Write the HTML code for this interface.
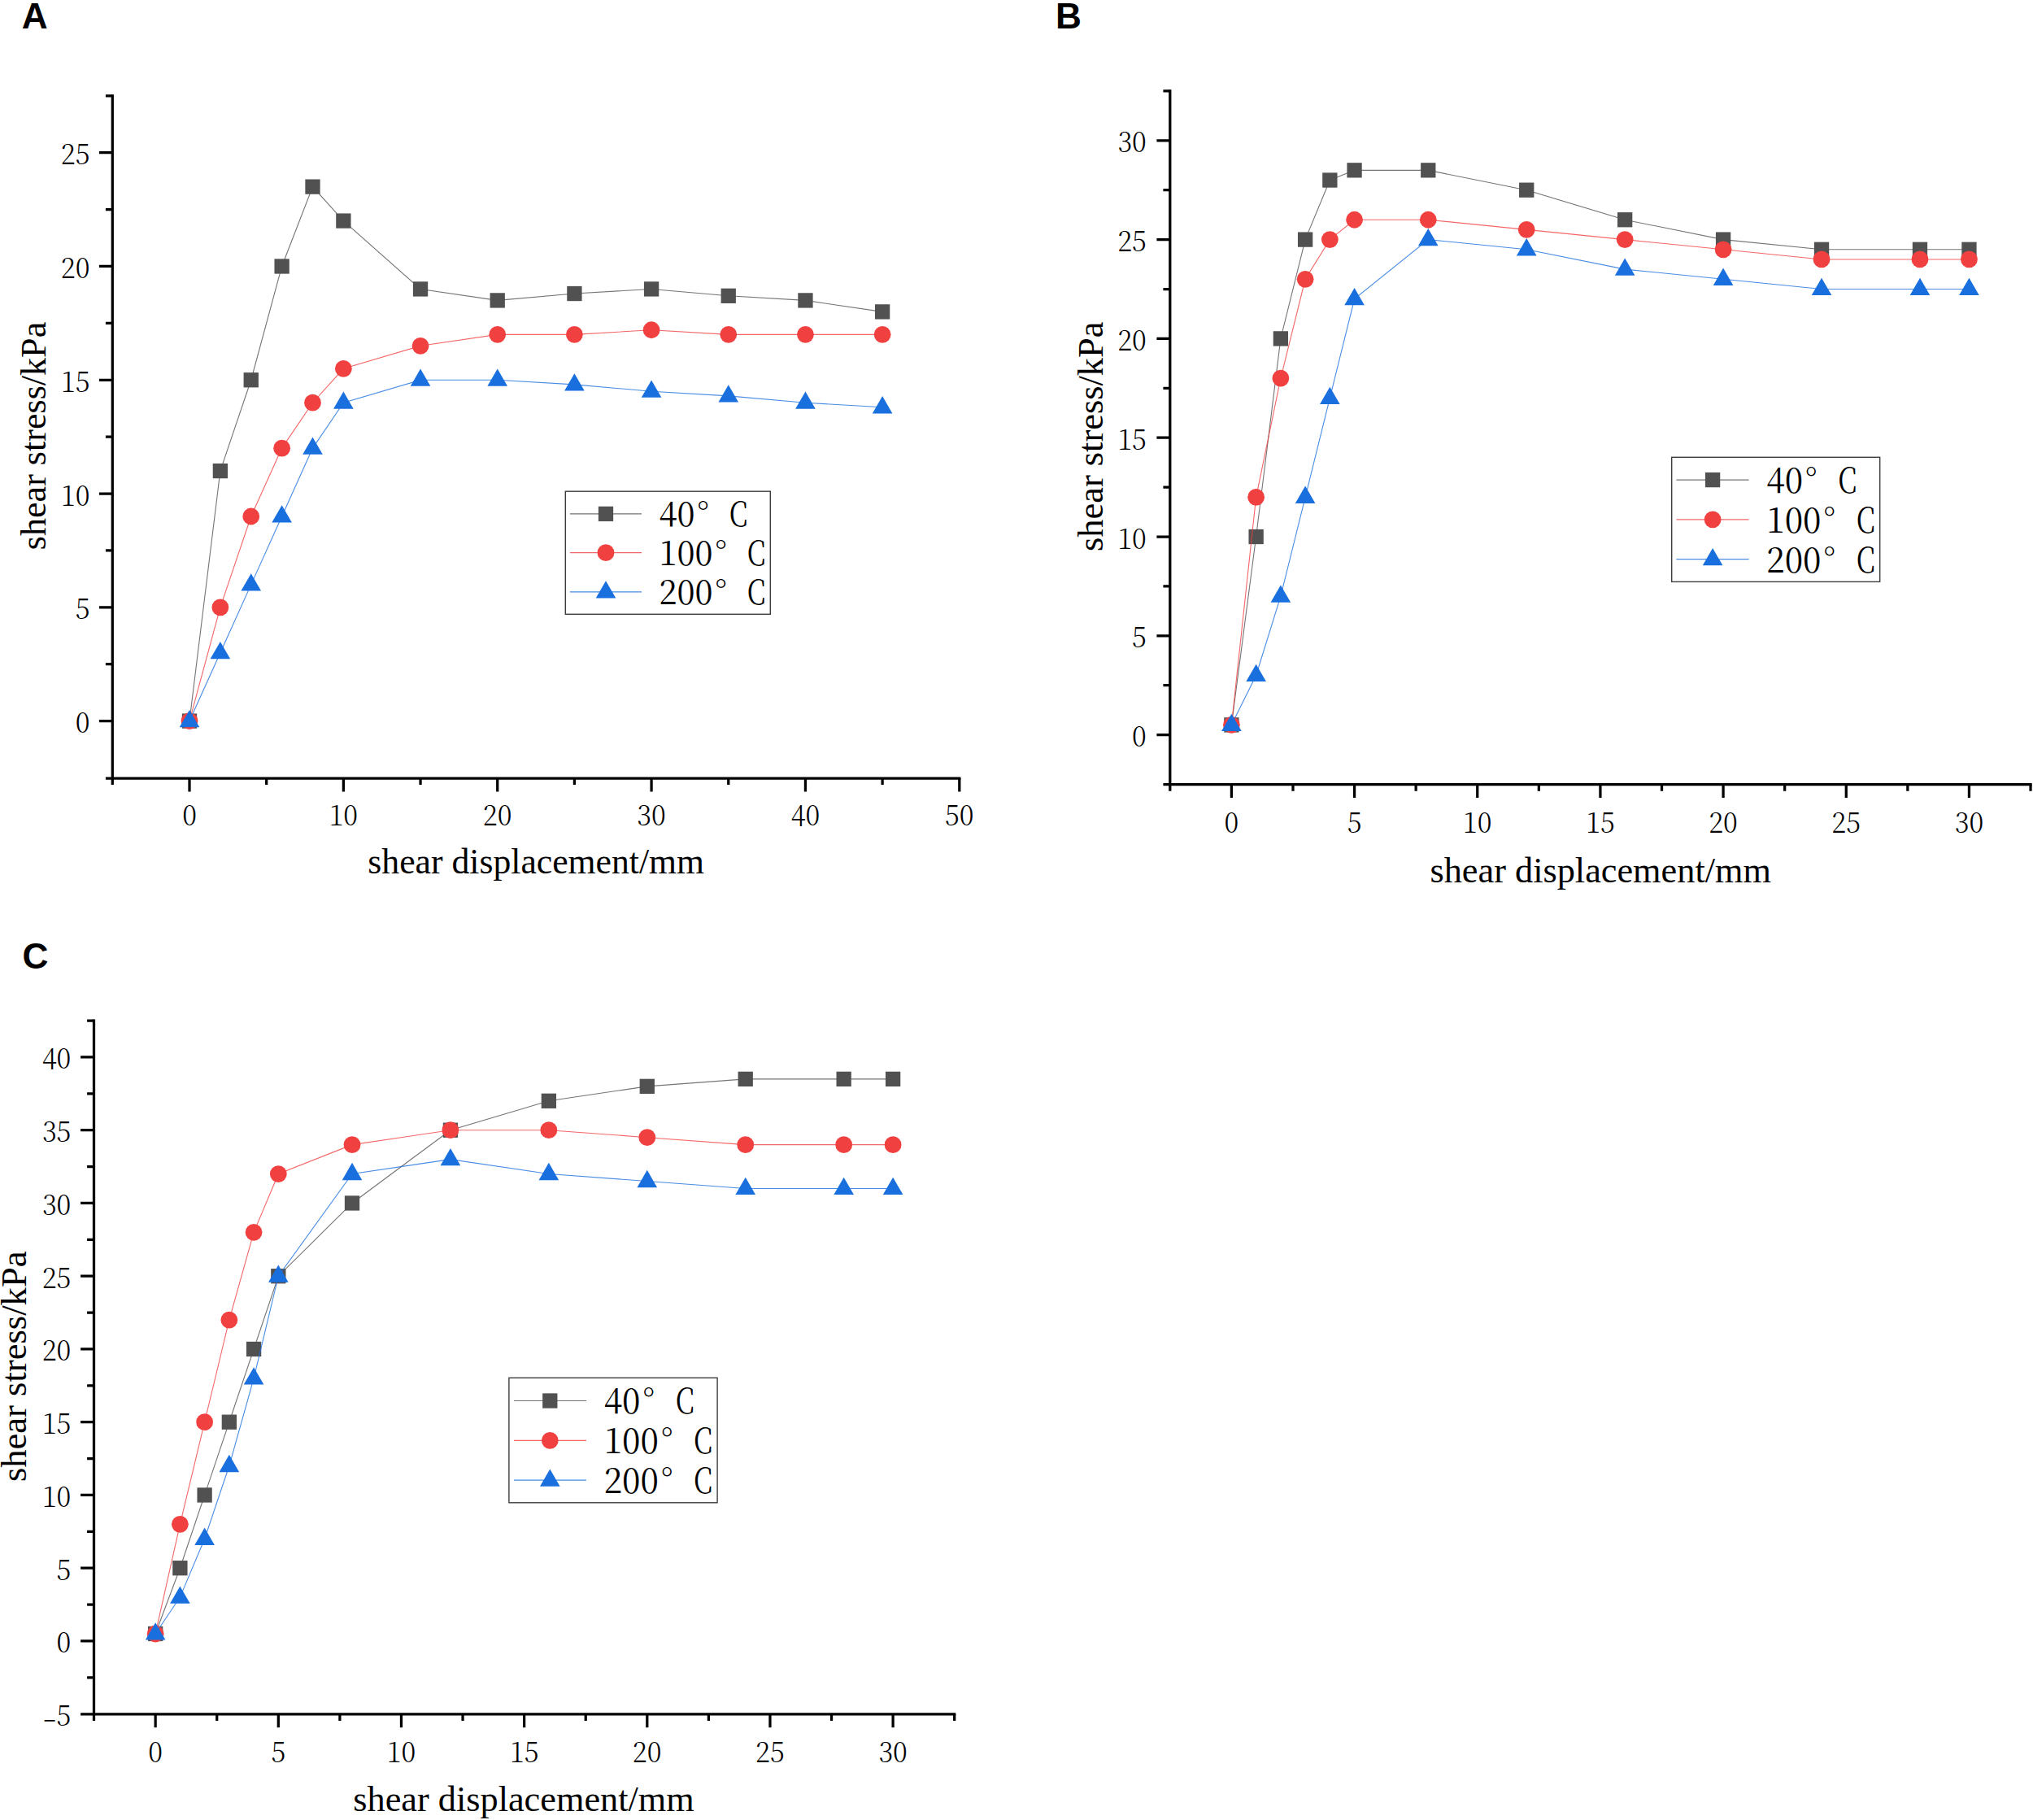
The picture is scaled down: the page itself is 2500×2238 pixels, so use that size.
<!DOCTYPE html>
<html lang="en"><head><meta charset="utf-8"><title>Shear stress versus shear displacement</title>
<style>html,body{margin:0;padding:0;background:#fff}svg{display:block}text{white-space:pre}</style></head><body>
<svg width="2500" height="2238" viewBox="0 0 2500 2238" role="img" aria-label="Shear stress versus shear displacement curves at 40, 100 and 200 degrees C for three panels A, B and C">
<rect width="2500" height="2238" fill="#fff"/>
<g id="panel-A">
<g stroke="#000" stroke-width="3.25" fill="none" stroke-linecap="butt">
<path d="M138.3 116.19V957.1H1181.42"/>
<path d="M138.3 957.1v8M233 957.1v16.3M327.68 957.1v8M422.36 957.1v16.3M517.04 957.1v8M611.72 957.1v16.3M706.4 957.1v8M801.08 957.1v16.3M895.76 957.1v8M990.44 957.1v16.3M1085.12 957.1v8M1179.8 957.1v16.3M138.3 957.1h-8.4M138.3 886.6h-16.4M138.3 816.71h-8.4M138.3 746.82h-16.4M138.3 676.93h-8.4M138.3 607.04h-16.4M138.3 537.15h-8.4M138.3 467.26h-16.4M138.3 397.37h-8.4M138.3 327.48h-16.4M138.3 257.59h-8.4M138.3 187.7h-16.4M138.3 117.81h-8.4"/>
</g>
<g font-family='"Noto Serif CJK SC","Liberation Serif",serif' font-size="35.2" font-weight="300" fill="#000">
<text transform="translate(233 1014.8) scale(0.93 1)" text-anchor="middle">0</text>
<text transform="translate(422.36 1014.8) scale(0.93 1)" text-anchor="middle">10</text>
<text transform="translate(611.72 1014.8) scale(0.93 1)" text-anchor="middle">20</text>
<text transform="translate(801.08 1014.8) scale(0.93 1)" text-anchor="middle">30</text>
<text transform="translate(990.44 1014.8) scale(0.93 1)" text-anchor="middle">40</text>
<text transform="translate(1179.8 1014.8) scale(0.93 1)" text-anchor="middle">50</text>
<text transform="translate(110.4 901.1) scale(0.93 1)" text-anchor="end">0</text>
<text transform="translate(110.4 761.32) scale(0.93 1)" text-anchor="end">5</text>
<text transform="translate(110.4 621.54) scale(0.93 1)" text-anchor="end">10</text>
<text transform="translate(110.4 481.76) scale(0.93 1)" text-anchor="end">15</text>
<text transform="translate(110.4 341.98) scale(0.93 1)" text-anchor="end">20</text>
<text transform="translate(110.4 202.2) scale(0.93 1)" text-anchor="end">25</text>
</g>
<text x="659.2" y="1074.4" font-family='"Liberation Serif",serif' font-size="43.7" text-anchor="middle" fill="#000">shear displacement/mm</text>
<text transform="translate(56.3 536) rotate(-90)" font-family='"Liberation Serif",serif' font-size="44.1" text-anchor="middle" fill="#000">shear stress/kPa</text>
<text x="26.8" y="35.4" font-family='"Liberation Sans",sans-serif' font-size="44.2" font-weight="bold" fill="#000">A</text>
<polyline fill="none" stroke="#515151" stroke-width="1.1" stroke-opacity="0.8" points="233,886.6 270.87,579.08 308.74,467.26 346.62,327.48 384.49,229.63 422.36,271.57 517.04,355.44 611.72,369.41 706.4,361.03 801.08,355.44 895.76,363.82 990.44,369.41 1085.12,383.39"/>
<g><rect x="223.85" y="877.45" width="18.3" height="18.3" fill="#515151"/><rect x="261.72" y="569.93" width="18.3" height="18.3" fill="#515151"/><rect x="299.59" y="458.11" width="18.3" height="18.3" fill="#515151"/><rect x="337.47" y="318.33" width="18.3" height="18.3" fill="#515151"/><rect x="375.34" y="220.48" width="18.3" height="18.3" fill="#515151"/><rect x="413.21" y="262.42" width="18.3" height="18.3" fill="#515151"/><rect x="507.89" y="346.29" width="18.3" height="18.3" fill="#515151"/><rect x="602.57" y="360.26" width="18.3" height="18.3" fill="#515151"/><rect x="697.25" y="351.88" width="18.3" height="18.3" fill="#515151"/><rect x="791.93" y="346.29" width="18.3" height="18.3" fill="#515151"/><rect x="886.61" y="354.67" width="18.3" height="18.3" fill="#515151"/><rect x="981.29" y="360.26" width="18.3" height="18.3" fill="#515151"/><rect x="1075.97" y="374.24" width="18.3" height="18.3" fill="#515151"/></g>
<polyline fill="none" stroke="#F14040" stroke-width="1.1" stroke-opacity="0.8" points="233,886.6 270.87,746.82 308.74,635 346.62,551.13 384.49,495.22 422.36,453.28 517.04,425.33 611.72,411.35 706.4,411.35 801.08,405.76 895.76,411.35 990.44,411.35 1085.12,411.35"/>
<g><circle cx="233" cy="886.6" r="10.4" fill="#F14040"/><circle cx="270.87" cy="746.82" r="10.4" fill="#F14040"/><circle cx="308.74" cy="635" r="10.4" fill="#F14040"/><circle cx="346.62" cy="551.13" r="10.4" fill="#F14040"/><circle cx="384.49" cy="495.22" r="10.4" fill="#F14040"/><circle cx="422.36" cy="453.28" r="10.4" fill="#F14040"/><circle cx="517.04" cy="425.33" r="10.4" fill="#F14040"/><circle cx="611.72" cy="411.35" r="10.4" fill="#F14040"/><circle cx="706.4" cy="411.35" r="10.4" fill="#F14040"/><circle cx="801.08" cy="405.76" r="10.4" fill="#F14040"/><circle cx="895.76" cy="411.35" r="10.4" fill="#F14040"/><circle cx="990.44" cy="411.35" r="10.4" fill="#F14040"/><circle cx="1085.12" cy="411.35" r="10.4" fill="#F14040"/></g>
<polyline fill="none" stroke="#1A6FDF" stroke-width="1.1" stroke-opacity="0.8" points="233,886.6 270.87,802.73 308.74,718.86 346.62,635 384.49,551.13 422.36,495.22 517.04,467.26 611.72,467.26 706.4,472.85 801.08,481.24 895.76,486.83 990.44,495.22 1085.12,500.81"/>
<g><polygon points="233,872.9 220.7,894.2 245.3,894.2" fill="#1A6FDF"/><polygon points="270.87,789.03 258.57,810.33 283.17,810.33" fill="#1A6FDF"/><polygon points="308.74,705.16 296.44,726.47 321.04,726.47" fill="#1A6FDF"/><polygon points="346.62,621.29 334.32,642.6 358.92,642.6" fill="#1A6FDF"/><polygon points="384.49,537.43 372.19,558.73 396.79,558.73" fill="#1A6FDF"/><polygon points="422.36,481.51 410.06,502.82 434.66,502.82" fill="#1A6FDF"/><polygon points="517.04,453.56 504.74,474.86 529.34,474.86" fill="#1A6FDF"/><polygon points="611.72,453.56 599.42,474.86 624.02,474.86" fill="#1A6FDF"/><polygon points="706.4,459.15 694.1,480.45 718.7,480.45" fill="#1A6FDF"/><polygon points="801.08,467.54 788.78,488.84 813.38,488.84" fill="#1A6FDF"/><polygon points="895.76,473.13 883.46,494.43 908.06,494.43" fill="#1A6FDF"/><polygon points="990.44,481.51 978.14,502.82 1002.74,502.82" fill="#1A6FDF"/><polygon points="1085.12,487.1 1072.82,508.41 1097.42,508.41" fill="#1A6FDF"/></g>
<rect x="695.3" y="604.2" width="252" height="151.1" fill="#fff" stroke="#3c3c3c" stroke-width="1.4"/>
<line x1="700.9" y1="631.9" x2="789" y2="631.9" stroke="#515151" stroke-width="1.2" stroke-opacity="0.8"/>
<rect x="735.85" y="622.75" width="18.3" height="18.3" fill="#515151"/>
<text font-family='"Noto Serif CJK SC","Liberation Serif",serif' font-size="41.4" font-weight="400" fill="#000" y="647.1"><tspan x="810.4" textLength="44" lengthAdjust="spacingAndGlyphs">40</tspan><tspan x="857.4" dy="0">°</tspan><tspan x="896.8" dy="-0" textLength="22.56" lengthAdjust="spacingAndGlyphs">C</tspan></text>
<line x1="700.9" y1="679.7" x2="789" y2="679.7" stroke="#F14040" stroke-width="1.2" stroke-opacity="0.8"/>
<circle cx="745" cy="679.7" r="10.4" fill="#F14040"/>
<text font-family='"Noto Serif CJK SC","Liberation Serif",serif' font-size="41.4" font-weight="400" fill="#000" y="695"><tspan x="810.4" textLength="66" lengthAdjust="spacingAndGlyphs">100</tspan><tspan x="879.4" dy="0">°</tspan><tspan x="918.8" dy="-0" textLength="22.56" lengthAdjust="spacingAndGlyphs">C</tspan></text>
<line x1="700.9" y1="727.9" x2="789" y2="727.9" stroke="#1A6FDF" stroke-width="1.2" stroke-opacity="0.8"/>
<polygon points="745,714.2 732.7,735.5 757.3,735.5" fill="#1A6FDF"/>
<text font-family='"Noto Serif CJK SC","Liberation Serif",serif' font-size="41.4" font-weight="400" fill="#000" y="743"><tspan x="810.4" textLength="66" lengthAdjust="spacingAndGlyphs">200</tspan><tspan x="879.4" dy="0">°</tspan><tspan x="918.8" dy="-0" textLength="22.56" lengthAdjust="spacingAndGlyphs">C</tspan></text>
</g>
<g id="panel-B">
<g stroke="#000" stroke-width="3.25" fill="none" stroke-linecap="butt">
<path d="M1438.8 110.28V964.7H2498.66"/>
<path d="M1438.8 964.7v8M1514.4 964.7v16.3M1589.99 964.7v8M1665.58 964.7v16.3M1741.16 964.7v8M1816.75 964.7v16.3M1892.34 964.7v8M1967.93 964.7v16.3M2043.51 964.7v8M2119.1 964.7v16.3M2194.69 964.7v8M2270.28 964.7v16.3M2345.86 964.7v8M2421.45 964.7v16.3M2497.04 964.7v8M1438.8 964.7h-8.4M1438.8 903.6h-16.4M1438.8 842.7h-8.4M1438.8 781.8h-16.4M1438.8 720.9h-8.4M1438.8 660h-16.4M1438.8 599.1h-8.4M1438.8 538.2h-16.4M1438.8 477.3h-8.4M1438.8 416.4h-16.4M1438.8 355.5h-8.4M1438.8 294.6h-16.4M1438.8 233.7h-8.4M1438.8 172.8h-16.4M1438.8 111.9h-8.4"/>
</g>
<g font-family='"Noto Serif CJK SC","Liberation Serif",serif' font-size="35.2" font-weight="300" fill="#000">
<text transform="translate(1514.4 1023.8) scale(0.93 1)" text-anchor="middle">0</text>
<text transform="translate(1665.58 1023.8) scale(0.93 1)" text-anchor="middle">5</text>
<text transform="translate(1816.75 1023.8) scale(0.93 1)" text-anchor="middle">10</text>
<text transform="translate(1967.93 1023.8) scale(0.93 1)" text-anchor="middle">15</text>
<text transform="translate(2119.1 1023.8) scale(0.93 1)" text-anchor="middle">20</text>
<text transform="translate(2270.28 1023.8) scale(0.93 1)" text-anchor="middle">25</text>
<text transform="translate(2421.45 1023.8) scale(0.93 1)" text-anchor="middle">30</text>
<text transform="translate(1409.8 918.1) scale(0.93 1)" text-anchor="end">0</text>
<text transform="translate(1409.8 796.3) scale(0.93 1)" text-anchor="end">5</text>
<text transform="translate(1409.8 674.5) scale(0.93 1)" text-anchor="end">10</text>
<text transform="translate(1409.8 552.7) scale(0.93 1)" text-anchor="end">15</text>
<text transform="translate(1409.8 430.9) scale(0.93 1)" text-anchor="end">20</text>
<text transform="translate(1409.8 309.1) scale(0.93 1)" text-anchor="end">25</text>
<text transform="translate(1409.8 187.3) scale(0.93 1)" text-anchor="end">30</text>
</g>
<text x="1968.2" y="1084.6" font-family='"Liberation Serif",serif' font-size="44.3" text-anchor="middle" fill="#000">shear displacement/mm</text>
<text transform="translate(1356.2 536.8) rotate(-90)" font-family='"Liberation Serif",serif' font-size="44.4" text-anchor="middle" fill="#000">shear stress/kPa</text>
<text x="1298" y="35.4" font-family='"Liberation Sans",sans-serif' font-size="44.2" font-weight="bold" fill="#000">B</text>
<polyline fill="none" stroke="#515151" stroke-width="1.1" stroke-opacity="0.8" points="1514.4,891.42 1544.63,660 1574.87,416.4 1605.11,294.6 1635.34,221.52 1665.58,209.34 1756.28,209.34 1877.22,233.7 1998.16,270.24 2119.1,294.6 2240.04,306.78 2360.98,306.78 2421.45,306.78"/>
<g><rect x="1505.25" y="882.27" width="18.3" height="18.3" fill="#515151"/><rect x="1535.48" y="650.85" width="18.3" height="18.3" fill="#515151"/><rect x="1565.72" y="407.25" width="18.3" height="18.3" fill="#515151"/><rect x="1595.95" y="285.45" width="18.3" height="18.3" fill="#515151"/><rect x="1626.19" y="212.37" width="18.3" height="18.3" fill="#515151"/><rect x="1656.42" y="200.19" width="18.3" height="18.3" fill="#515151"/><rect x="1747.13" y="200.19" width="18.3" height="18.3" fill="#515151"/><rect x="1868.07" y="224.55" width="18.3" height="18.3" fill="#515151"/><rect x="1989.01" y="261.09" width="18.3" height="18.3" fill="#515151"/><rect x="2109.95" y="285.45" width="18.3" height="18.3" fill="#515151"/><rect x="2230.89" y="297.63" width="18.3" height="18.3" fill="#515151"/><rect x="2351.83" y="297.63" width="18.3" height="18.3" fill="#515151"/><rect x="2412.3" y="297.63" width="18.3" height="18.3" fill="#515151"/></g>
<polyline fill="none" stroke="#F14040" stroke-width="1.1" stroke-opacity="0.8" points="1514.4,891.42 1544.63,611.28 1574.87,465.12 1605.11,343.32 1635.34,294.6 1665.58,270.24 1756.28,270.24 1877.22,282.42 1998.16,294.6 2119.1,306.78 2240.04,318.96 2360.98,318.96 2421.45,318.96"/>
<g><circle cx="1514.4" cy="891.42" r="10.4" fill="#F14040"/><circle cx="1544.63" cy="611.28" r="10.4" fill="#F14040"/><circle cx="1574.87" cy="465.12" r="10.4" fill="#F14040"/><circle cx="1605.11" cy="343.32" r="10.4" fill="#F14040"/><circle cx="1635.34" cy="294.6" r="10.4" fill="#F14040"/><circle cx="1665.58" cy="270.24" r="10.4" fill="#F14040"/><circle cx="1756.28" cy="270.24" r="10.4" fill="#F14040"/><circle cx="1877.22" cy="282.42" r="10.4" fill="#F14040"/><circle cx="1998.16" cy="294.6" r="10.4" fill="#F14040"/><circle cx="2119.1" cy="306.78" r="10.4" fill="#F14040"/><circle cx="2240.04" cy="318.96" r="10.4" fill="#F14040"/><circle cx="2360.98" cy="318.96" r="10.4" fill="#F14040"/><circle cx="2421.45" cy="318.96" r="10.4" fill="#F14040"/></g>
<polyline fill="none" stroke="#1A6FDF" stroke-width="1.1" stroke-opacity="0.8" points="1514.4,891.42 1544.63,830.52 1574.87,733.08 1605.11,611.28 1635.34,489.48 1665.58,367.68 1756.28,294.6 1877.22,306.78 1998.16,331.14 2119.1,343.32 2240.04,355.5 2360.98,355.5 2421.45,355.5"/>
<g><polygon points="1514.4,877.72 1502.1,899.02 1526.7,899.02" fill="#1A6FDF"/><polygon points="1544.63,816.82 1532.34,838.12 1556.93,838.12" fill="#1A6FDF"/><polygon points="1574.87,719.38 1562.57,740.68 1587.17,740.68" fill="#1A6FDF"/><polygon points="1605.11,597.58 1592.81,618.88 1617.4,618.88" fill="#1A6FDF"/><polygon points="1635.34,475.78 1623.04,497.08 1647.64,497.08" fill="#1A6FDF"/><polygon points="1665.58,353.98 1653.28,375.28 1677.88,375.28" fill="#1A6FDF"/><polygon points="1756.28,280.9 1743.98,302.2 1768.58,302.2" fill="#1A6FDF"/><polygon points="1877.22,293.08 1864.92,314.38 1889.52,314.38" fill="#1A6FDF"/><polygon points="1998.16,317.44 1985.86,338.74 2010.46,338.74" fill="#1A6FDF"/><polygon points="2119.1,329.62 2106.8,350.92 2131.4,350.92" fill="#1A6FDF"/><polygon points="2240.04,341.8 2227.74,363.1 2252.34,363.1" fill="#1A6FDF"/><polygon points="2360.98,341.8 2348.68,363.1 2373.28,363.1" fill="#1A6FDF"/><polygon points="2421.45,341.8 2409.15,363.1 2433.75,363.1" fill="#1A6FDF"/></g>
<rect x="2055.7" y="562.3" width="256" height="153.1" fill="#fff" stroke="#3c3c3c" stroke-width="1.4"/>
<line x1="2061.4" y1="590.1" x2="2150.6" y2="590.1" stroke="#515151" stroke-width="1.2" stroke-opacity="0.8"/>
<rect x="2096.95" y="580.95" width="18.3" height="18.3" fill="#515151"/>
<text font-family='"Noto Serif CJK SC","Liberation Serif",serif' font-size="42.2" font-weight="400" fill="#000" y="606"><tspan x="2172.3" textLength="44.8" lengthAdjust="spacingAndGlyphs">40</tspan><tspan x="2220.1" dy="0">°</tspan><tspan x="2260.3" dy="-0" textLength="23" lengthAdjust="spacingAndGlyphs">C</tspan></text>
<line x1="2061.4" y1="638.8" x2="2150.6" y2="638.8" stroke="#F14040" stroke-width="1.2" stroke-opacity="0.8"/>
<circle cx="2106.1" cy="638.8" r="10.4" fill="#F14040"/>
<text font-family='"Noto Serif CJK SC","Liberation Serif",serif' font-size="42.2" font-weight="400" fill="#000" y="654.7"><tspan x="2172.3" textLength="67.2" lengthAdjust="spacingAndGlyphs">100</tspan><tspan x="2242.5" dy="0">°</tspan><tspan x="2282.7" dy="-0" textLength="23" lengthAdjust="spacingAndGlyphs">C</tspan></text>
<line x1="2061.4" y1="687.6" x2="2150.6" y2="687.6" stroke="#1A6FDF" stroke-width="1.2" stroke-opacity="0.8"/>
<polygon points="2106.1,673.9 2093.8,695.2 2118.4,695.2" fill="#1A6FDF"/>
<text font-family='"Noto Serif CJK SC","Liberation Serif",serif' font-size="42.2" font-weight="400" fill="#000" y="703.5"><tspan x="2172.3" textLength="67.2" lengthAdjust="spacingAndGlyphs">200</tspan><tspan x="2242.5" dy="0">°</tspan><tspan x="2282.7" dy="-0" textLength="23" lengthAdjust="spacingAndGlyphs">C</tspan></text>
</g>
<g id="panel-C">
<g stroke="#000" stroke-width="3.25" fill="none" stroke-linecap="butt">
<path d="M115.5 1253.45V2107.9H1175.32"/>
<path d="M115.5 2107.9v8M191.15 2107.9v16.3M266.73 2107.9v8M342.31 2107.9v16.3M417.89 2107.9v8M493.47 2107.9v16.3M569.05 2107.9v8M644.63 2107.9v16.3M720.21 2107.9v8M795.79 2107.9v16.3M871.37 2107.9v8M946.95 2107.9v16.3M1022.53 2107.9v8M1098.11 2107.9v16.3M1173.69 2107.9v8M115.5 2107.9h-16.4M115.5 2062.82h-8.4M115.5 2017.95h-16.4M115.5 1973.08h-8.4M115.5 1928.2h-16.4M115.5 1883.33h-8.4M115.5 1838.45h-16.4M115.5 1793.58h-8.4M115.5 1748.7h-16.4M115.5 1703.83h-8.4M115.5 1658.95h-16.4M115.5 1614.08h-8.4M115.5 1569.2h-16.4M115.5 1524.33h-8.4M115.5 1479.45h-16.4M115.5 1434.58h-8.4M115.5 1389.7h-16.4M115.5 1344.83h-8.4M115.5 1299.95h-16.4M115.5 1255.08h-8.4"/>
</g>
<g font-family='"Noto Serif CJK SC","Liberation Serif",serif' font-size="35.2" font-weight="300" fill="#000">
<text transform="translate(191.15 2166.8) scale(0.93 1)" text-anchor="middle">0</text>
<text transform="translate(342.31 2166.8) scale(0.93 1)" text-anchor="middle">5</text>
<text transform="translate(493.47 2166.8) scale(0.93 1)" text-anchor="middle">10</text>
<text transform="translate(644.63 2166.8) scale(0.93 1)" text-anchor="middle">15</text>
<text transform="translate(795.79 2166.8) scale(0.93 1)" text-anchor="middle">20</text>
<text transform="translate(946.95 2166.8) scale(0.93 1)" text-anchor="middle">25</text>
<text transform="translate(1098.11 2166.8) scale(0.93 1)" text-anchor="middle">30</text>
<text transform="translate(87.3 2122.2) scale(0.93 1)" text-anchor="end"><tspan dy="2.9" textLength="18.5" lengthAdjust="spacingAndGlyphs">-</tspan><tspan dy="-2.9">5</tspan></text>
<text transform="translate(87.3 2032.45) scale(0.93 1)" text-anchor="end">0</text>
<text transform="translate(87.3 1942.7) scale(0.93 1)" text-anchor="end">5</text>
<text transform="translate(87.3 1852.95) scale(0.93 1)" text-anchor="end">10</text>
<text transform="translate(87.3 1763.2) scale(0.93 1)" text-anchor="end">15</text>
<text transform="translate(87.3 1673.45) scale(0.93 1)" text-anchor="end">20</text>
<text transform="translate(87.3 1583.7) scale(0.93 1)" text-anchor="end">25</text>
<text transform="translate(87.3 1493.95) scale(0.93 1)" text-anchor="end">30</text>
<text transform="translate(87.3 1404.2) scale(0.93 1)" text-anchor="end">35</text>
<text transform="translate(87.3 1314.45) scale(0.93 1)" text-anchor="end">40</text>
</g>
<text x="644" y="2227.1" font-family='"Liberation Serif",serif' font-size="44.3" text-anchor="middle" fill="#000">shear displacement/mm</text>
<text transform="translate(32.3 1680.3) rotate(-90)" font-family='"Liberation Serif",serif' font-size="44.6" text-anchor="middle" fill="#000">shear stress/kPa</text>
<text x="27.5" y="1191" font-family='"Liberation Sans",sans-serif' font-size="44.2" font-weight="bold" fill="#000">C</text>
<polyline fill="none" stroke="#515151" stroke-width="1.1" stroke-opacity="0.8" points="191.15,2008.98 221.38,1928.2 251.61,1838.45 281.85,1748.7 312.08,1658.95 342.31,1569.2 433.01,1479.45 553.93,1389.7 674.86,1353.8 795.79,1335.85 916.72,1326.88 1037.65,1326.88 1098.11,1326.88"/>
<g><rect x="182" y="1999.83" width="18.3" height="18.3" fill="#515151"/><rect x="212.23" y="1919.05" width="18.3" height="18.3" fill="#515151"/><rect x="242.46" y="1829.3" width="18.3" height="18.3" fill="#515151"/><rect x="272.7" y="1739.55" width="18.3" height="18.3" fill="#515151"/><rect x="302.93" y="1649.8" width="18.3" height="18.3" fill="#515151"/><rect x="333.16" y="1560.05" width="18.3" height="18.3" fill="#515151"/><rect x="423.86" y="1470.3" width="18.3" height="18.3" fill="#515151"/><rect x="544.78" y="1380.55" width="18.3" height="18.3" fill="#515151"/><rect x="665.71" y="1344.65" width="18.3" height="18.3" fill="#515151"/><rect x="786.64" y="1326.7" width="18.3" height="18.3" fill="#515151"/><rect x="907.57" y="1317.72" width="18.3" height="18.3" fill="#515151"/><rect x="1028.5" y="1317.72" width="18.3" height="18.3" fill="#515151"/><rect x="1088.96" y="1317.72" width="18.3" height="18.3" fill="#515151"/></g>
<polyline fill="none" stroke="#F14040" stroke-width="1.1" stroke-opacity="0.8" points="191.15,2008.98 221.38,1874.35 251.61,1748.7 281.85,1623.05 312.08,1515.35 342.31,1443.55 433.01,1407.65 553.93,1389.7 674.86,1389.7 795.79,1398.68 916.72,1407.65 1037.65,1407.65 1098.11,1407.65"/>
<g><circle cx="191.15" cy="2008.98" r="10.4" fill="#F14040"/><circle cx="221.38" cy="1874.35" r="10.4" fill="#F14040"/><circle cx="251.61" cy="1748.7" r="10.4" fill="#F14040"/><circle cx="281.85" cy="1623.05" r="10.4" fill="#F14040"/><circle cx="312.08" cy="1515.35" r="10.4" fill="#F14040"/><circle cx="342.31" cy="1443.55" r="10.4" fill="#F14040"/><circle cx="433.01" cy="1407.65" r="10.4" fill="#F14040"/><circle cx="553.93" cy="1389.7" r="10.4" fill="#F14040"/><circle cx="674.86" cy="1389.7" r="10.4" fill="#F14040"/><circle cx="795.79" cy="1398.68" r="10.4" fill="#F14040"/><circle cx="916.72" cy="1407.65" r="10.4" fill="#F14040"/><circle cx="1037.65" cy="1407.65" r="10.4" fill="#F14040"/><circle cx="1098.11" cy="1407.65" r="10.4" fill="#F14040"/></g>
<polyline fill="none" stroke="#1A6FDF" stroke-width="1.1" stroke-opacity="0.8" points="191.15,2008.98 221.38,1964.1 251.61,1892.3 281.85,1802.55 312.08,1694.85 342.31,1569.2 433.01,1443.55 553.93,1425.6 674.86,1443.55 795.79,1452.53 916.72,1461.5 1037.65,1461.5 1098.11,1461.5"/>
<g><polygon points="191.15,1995.27 178.85,2016.58 203.45,2016.58" fill="#1A6FDF"/><polygon points="221.38,1950.4 209.08,1971.7 233.68,1971.7" fill="#1A6FDF"/><polygon points="251.61,1878.6 239.31,1899.9 263.91,1899.9" fill="#1A6FDF"/><polygon points="281.85,1788.85 269.55,1810.15 294.15,1810.15" fill="#1A6FDF"/><polygon points="312.08,1681.15 299.78,1702.45 324.38,1702.45" fill="#1A6FDF"/><polygon points="342.31,1555.5 330.01,1576.8 354.61,1576.8" fill="#1A6FDF"/><polygon points="433.01,1429.85 420.71,1451.15 445.31,1451.15" fill="#1A6FDF"/><polygon points="553.93,1411.9 541.63,1433.2 566.23,1433.2" fill="#1A6FDF"/><polygon points="674.86,1429.85 662.56,1451.15 687.16,1451.15" fill="#1A6FDF"/><polygon points="795.79,1438.82 783.49,1460.13 808.09,1460.13" fill="#1A6FDF"/><polygon points="916.72,1447.8 904.42,1469.1 929.02,1469.1" fill="#1A6FDF"/><polygon points="1037.65,1447.8 1025.35,1469.1 1049.95,1469.1" fill="#1A6FDF"/><polygon points="1098.11,1447.8 1085.81,1469.1 1110.41,1469.1" fill="#1A6FDF"/></g>
<rect x="625.9" y="1694.3" width="256.2" height="153.5" fill="#fff" stroke="#3c3c3c" stroke-width="1.4"/>
<line x1="632" y1="1722.5" x2="721" y2="1722.5" stroke="#515151" stroke-width="1.2" stroke-opacity="0.8"/>
<rect x="667.15" y="1713.35" width="18.3" height="18.3" fill="#515151"/>
<text font-family='"Noto Serif CJK SC","Liberation Serif",serif' font-size="42.2" font-weight="400" fill="#000" y="1738.3"><tspan x="742.7" textLength="44.8" lengthAdjust="spacingAndGlyphs">40</tspan><tspan x="790.5" dy="0">°</tspan><tspan x="830.7" dy="-0" textLength="23" lengthAdjust="spacingAndGlyphs">C</tspan></text>
<line x1="632" y1="1771.3" x2="721" y2="1771.3" stroke="#F14040" stroke-width="1.2" stroke-opacity="0.8"/>
<circle cx="676.3" cy="1771.3" r="10.4" fill="#F14040"/>
<text font-family='"Noto Serif CJK SC","Liberation Serif",serif' font-size="42.2" font-weight="400" fill="#000" y="1787.1"><tspan x="742.7" textLength="67.2" lengthAdjust="spacingAndGlyphs">100</tspan><tspan x="812.9" dy="0">°</tspan><tspan x="853.1" dy="-0" textLength="23" lengthAdjust="spacingAndGlyphs">C</tspan></text>
<line x1="632" y1="1820.1" x2="721" y2="1820.1" stroke="#1A6FDF" stroke-width="1.2" stroke-opacity="0.8"/>
<polygon points="676.3,1806.4 664,1827.7 688.6,1827.7" fill="#1A6FDF"/>
<text font-family='"Noto Serif CJK SC","Liberation Serif",serif' font-size="42.2" font-weight="400" fill="#000" y="1835.9"><tspan x="742.7" textLength="67.2" lengthAdjust="spacingAndGlyphs">200</tspan><tspan x="812.9" dy="0">°</tspan><tspan x="853.1" dy="-0" textLength="23" lengthAdjust="spacingAndGlyphs">C</tspan></text>
</g>
</svg></body></html>
